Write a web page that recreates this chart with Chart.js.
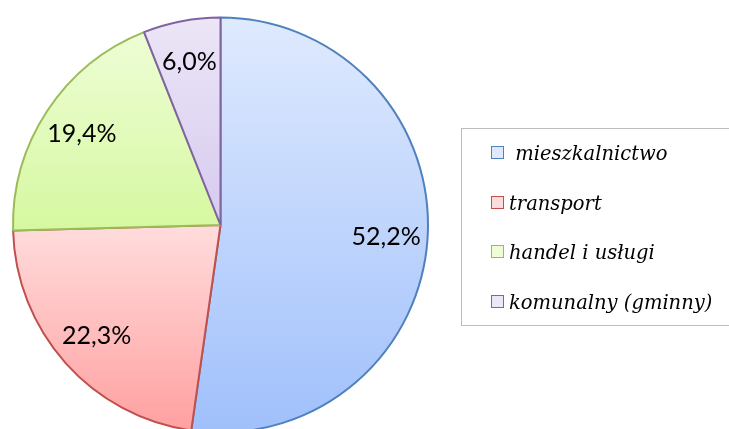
<!DOCTYPE html>
<html>
<head>
<meta charset="utf-8">
<script src="https://cdn.jsdelivr.net/npm/chart.js@4.4.1/dist/chart.umd.min.js"></script>
<style>
  html, body { margin: 0; padding: 0; background: #fff; overflow: hidden; }
  .wrap { position: absolute; left: 0; top: 0; width: 729px; height: 440px; }
  .legend {
    position: absolute; left: 461px; top: 128px; width: 280px; height: 198px;
    border: 1px solid #bcbcbc; box-sizing: border-box;
    font-family: "DejaVu Serif", serif; font-style: italic; font-size: 19.5px; color: #000;
  }
  .legend .item { position: absolute; left: 29px; height: 24px; line-height: 24px; white-space: nowrap; }
  .legend .box { display: inline-block; width: 11px; height: 11px; border: 1px solid; vertical-align: middle; margin-right: 5px; position: relative; top: -2px; }
</style>
</head>
<body>
<div class="wrap"><canvas id="pieChart"></canvas></div>
<div class="legend" id="legend"></div>
<script>
// Data
const categories = ['mieszkalnictwo', 'transport', 'handel i usługi', 'komunalny (gminny)'];
const shares = [52.2, 22.3, 19.4, 6.0];

// Colours: light (top of slice), dark (bottom of slice), border
const lightColors = ['#dfeafe', '#ffdcdc', '#eefdd6', '#ece6f7'];
const darkColors = ['#a0c0fb', '#ffa0a0', '#d6f8a0', '#d6caef'];
const borderColors = ['#4f81bd', '#c0504d', '#9bbb59', '#8064a2'];

// Legend (HTML)
const legendEl = document.getElementById('legend');
const legendTops = [13, 63, 112, 162];
categories.forEach((c, i) => {
    const item = document.createElement('div');
    item.className = 'item';
    item.style.top = legendTops[i] + 'px';
    item.innerHTML = '<span class="box" style="border-color:' + borderColors[i] +
        ';background:' + lightColors[i] + '"></span>' + (i === 0 ? '&nbsp;' : '') + c;
    legendEl.appendChild(item);
});

// Vertical gradient per slice
function sliceGradient(context) {
    const chart = context.chart;
    const i = context.dataIndex;
    const area = chart.chartArea;
    if (!area) return lightColors[i];
    const cx = (area.left + area.right) / 2;
    const cy = (area.top + area.bottom) / 2;
    const r = Math.min(area.right - area.left, area.bottom - area.top) / 2;
    const total = shares.reduce((a, b) => a + b, 0);
    let start = 0;
    for (let k = 0; k < i; k++) start += shares[k];
    const a0 = start / total * Math.PI * 2 - Math.PI / 2;
    const a1 = (start + shares[i]) / total * Math.PI * 2 - Math.PI / 2;
    let ymin = cy, ymax = cy;
    for (let s = 0; s <= 40; s++) {
        const a = a0 + (a1 - a0) * s / 40;
        const y = cy + Math.sin(a) * r;
        ymin = Math.min(ymin, y);
        ymax = Math.max(ymax, y);
    }
    const g = chart.ctx.createLinearGradient(0, ymin, 0, ymax);
    g.addColorStop(0, lightColors[i]);
    g.addColorStop(1, darkColors[i]);
    return g;
}

// Percentage labels inside slices
const sliceLabels = {
    id: 'sliceLabels',
    afterDatasetsDraw(chart) {
        const ctx = chart.ctx;
        const meta = chart.getDatasetMeta(0);
        ctx.save();
        ctx.font = '25px Lato, sans-serif';
        ctx.fillStyle = '#000';
        ctx.textAlign = 'center';
        ctx.textBaseline = 'middle';
        meta.data.forEach((el, i) => {
            const mid = (el.startAngle + el.endAngle) / 2;
            const r = el.outerRadius * 0.8;
            const x = el.x + Math.cos(mid) * r;
            const y = el.y + Math.sin(mid) * r;
            ctx.fillText(shares[i].toFixed(1).replace('.', ',') + '%', x, y);
        });
        ctx.restore();
    }
};

const pieCtx = document.getElementById('pieChart').getContext('2d');
const pieChart = new Chart(pieCtx, {
    type: 'pie',
    data: {
        labels: categories,
        datasets: [{
            data: shares,
            backgroundColor: sliceGradient,
            borderColor: borderColors,
            borderWidth: 2
        }]
    },
    options: {
        responsive: true,
        maintainAspectRatio: false,
        animation: false,
        layout: {
            padding: { left: 12, top: 16, right: 300, bottom: 6 }
        },
        plugins: {
            legend: { display: false },
            tooltip: { enabled: false }
        }
    },
    plugins: [sliceLabels]
});
</script>
</body>
</html>
